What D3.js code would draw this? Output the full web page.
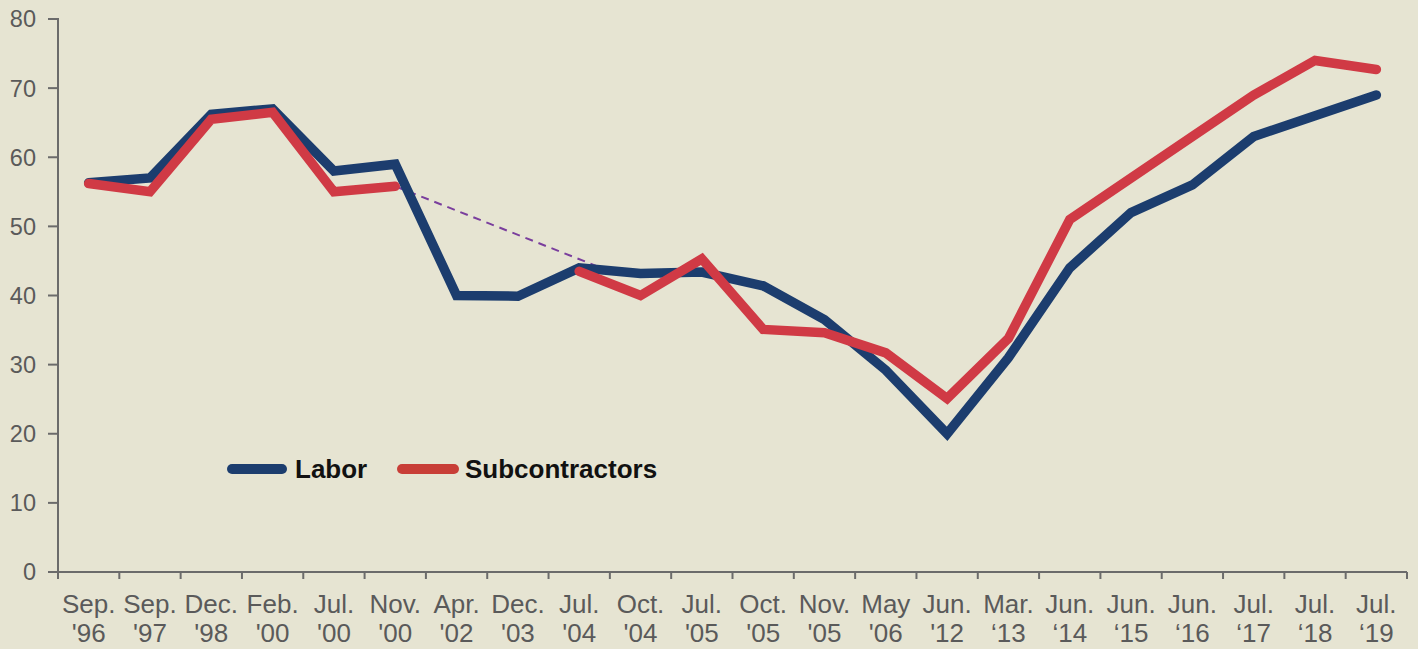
<!DOCTYPE html>
<html>
<head>
<meta charset="utf-8">
<script src="https://cdn.jsdelivr.net/npm/d3@7"></script>
<style>
  html, body { margin: 0; padding: 0; background: #e6e4d2; }
  svg { display: block; }
</style>
</head>
<body>
<svg id="chart" width="1418" height="649"></svg>
<script>
// ---- data ----
const monthLabels = ["Sep.", "Sep.", "Dec.", "Feb.", "Jul.", "Nov.", "Apr.", "Dec.", "Jul.", "Oct.", "Jul.",
                     "Oct.", "Nov.", "May", "Jun.", "Mar.", "Jun.", "Jun.", "Jun.", "Jul.", "Jul.", "Jul."];
const yearLabels = ["'96", "'97", "'98", "'00", "'00", "'00", "'02", "'03", "'04", "'04", "'05",
                    "'05", "'05", "'06", "'12", "\u201813", "\u201814", "\u201815", "\u201816", "\u201817", "\u201818", "\u201819"];
const categories = monthLabels.map((m, i) => m + " " + yearLabels[i]);
const labor = [56.3, 57, 66.2, 67, 58, 59, 40, 39.9, 44, 43.2, 43.4,
               41.4, 36.5, 29.2, 20, 31, 44, 52, 56, 63, 66, 69];
const subcontractors = [56.2, 55, 65.5, 66.5, 55, 55.8, null, null, 43.5, 40, 45.3,
                        35.1, 34.6, 31.7, 25.1, 33.8, 51, 57, 63, 69, 74, 72.7];
// dashed connector across the gap: [category index (fractional), value]
const connector = [[5, 55.8], [8.5, 43.5]];
const yTicks = [0, 10, 20, 30, 40, 50, 60, 70, 80];
const seriesNames = ["Labor", "Subcontractors"];

// ---- layout ----
const svg = d3.select("#chart");
const pL = 58, pR = 1407, pT = 19, pB = 572;
const colors = { Labor: "#1c3d6e", Subcontractors: "#d03a45" };
const legendColors = { Labor: "#1c3d6e", Subcontractors: "#c83e37" };
const axisColor = "#6b6b6b";
const textColor = "#5a5a5a";

svg.append("rect").attr("width", 1418).attr("height", 649).attr("fill", "#e6e4d2");

const x = d3.scaleBand().domain(categories).range([pL, pR]).padding(0);
const y = d3.scaleLinear().domain([0, 80]).range([pB, pT]);
const cx = i => x(categories[0]) + x.step() * (i + 0.5);

// y axis
const yAxis = svg.append("g");
yAxis.append("line").attr("x1", pL).attr("x2", pL).attr("y1", y(80) - 1).attr("y2", y(0))
  .attr("stroke", axisColor).attr("stroke-width", 2);
yAxis.selectAll("line.tick").data(yTicks).enter().append("line")
  .attr("x1", pL - 10).attr("x2", pL).attr("y1", d => y(d)).attr("y2", d => y(d))
  .attr("stroke", axisColor).attr("stroke-width", 2);
yAxis.selectAll("text").data(yTicks).enter().append("text")
  .attr("x", pL - 22).attr("y", d => y(d)).attr("dy", "0.36em")
  .attr("text-anchor", "end").attr("fill", textColor)
  .attr("font-family", "Liberation Sans, Arial, sans-serif").attr("font-size", 23.5)
  .text(d => d);

// x axis
const xAxis = svg.append("g");
xAxis.append("line").attr("x1", pL).attr("x2", pR).attr("y1", pB).attr("y2", pB)
  .attr("stroke", axisColor).attr("stroke-width", 2);
const bounds = categories.map(c => x(c)).concat([pR]);
xAxis.selectAll("line.tick").data(bounds).enter().append("line")
  .attr("x1", d => d).attr("x2", d => d).attr("y1", pB).attr("y2", pB + 7)
  .attr("stroke", axisColor).attr("stroke-width", 2);
const lbl = xAxis.selectAll("text").data(categories).enter().append("text")
  .attr("x", (d, i) => cx(i)).attr("text-anchor", "middle").attr("fill", textColor)
  .attr("font-family", "Liberation Sans, Arial, sans-serif").attr("font-size", 26);
lbl.append("tspan").attr("x", (d, i) => cx(i)).attr("y", 613).text((d, i) => monthLabels[i]);
lbl.append("tspan").attr("x", (d, i) => cx(i)).attr("y", 642).text((d, i) => yearLabels[i]);

// dashed connector
svg.append("path")
  .attr("d", d3.line().x(d => cx(d[0])).y(d => y(d[1]))(connector))
  .attr("fill", "none").attr("stroke", "#7a3e9d").attr("stroke-width", 2)
  .attr("stroke-dasharray", "8,6");

// lines
const line = d3.line().defined(d => d != null).x((d, i) => cx(i)).y(d => y(d));
[["Labor", labor], ["Subcontractors", subcontractors]].forEach(([name, vals]) => {
  svg.append("path")
    .attr("d", line(vals))
    .attr("fill", "none").attr("stroke", colors[name]).attr("stroke-width", 9.5)
    .attr("stroke-linejoin", "miter").attr("stroke-linecap", "round");
});

// legend
const legendPos = [{ x1: 232, x2: 282, tx: 295 }, { x1: 402, x2: 454, tx: 465 }];
seriesNames.forEach((name, i) => {
  const p = legendPos[i];
  svg.append("line").attr("x1", p.x1).attr("x2", p.x2).attr("y1", 469).attr("y2", 469)
    .attr("stroke", legendColors[name]).attr("stroke-width", 10).attr("stroke-linecap", "round");
  svg.append("text").attr("x", p.tx).attr("y", 478)
    .attr("font-family", "Liberation Sans, Arial, sans-serif").attr("font-weight", "bold")
    .attr("font-size", 26).attr("fill", "#111").text(name);
});
</script>
</body>
</html>
